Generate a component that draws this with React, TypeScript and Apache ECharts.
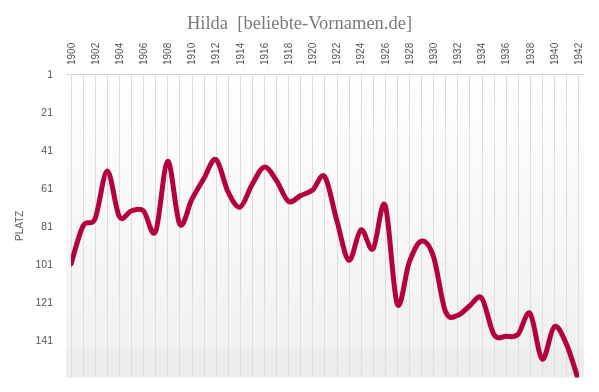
import React, { useEffect, useRef } from "react";
import * as echarts from "echarts";

const TITLE = "Hilda  [beliebte-Vornamen.de]";
const Y_NAME = "PLATZ";
const years = [
  1900, 1901, 1902, 1903, 1904, 1905, 1906, 1907, 1908, 1909, 1910, 1911, 1912,
  1913, 1914, 1915, 1916, 1917, 1918, 1919, 1920, 1921, 1922, 1923, 1924, 1925,
  1926, 1927, 1928, 1929, 1930, 1931, 1932, 1933, 1934, 1935, 1936, 1937, 1938,
  1939, 1940, 1941, 1942,
];
const ranks = [
  101, 81, 77, 52, 76, 73, 73, 84, 47, 80, 67, 56, 46, 63, 71, 59, 50, 57, 68,
  65, 62, 55, 78, 99, 83, 93, 70, 122, 100, 89, 97, 126, 128, 123, 119, 138,
  139, 138, 127, 151, 134, 143, 162,
];
const yTicks = [1, 21, 41, 61, 81, 101, 121, 141];

export default function App() {
  const ref = useRef<HTMLDivElement>(null);
  useEffect(() => {
    if (!ref.current) return;
    const chart = echarts.init(ref.current, undefined, { renderer: "svg" });
    const pts = years.map((y, i) => [y, ranks[i]]);
    chart.setOption({
      animation: false,
      title: {
        text: TITLE,
        left: "center",
        top: 8,
        textStyle: {
          fontFamily: "Liberation Serif",
          fontSize: 18.5,
          fontWeight: "normal",
          color: "#7a7a7a",
        },
      },
      graphic: [
        {
          type: "rect",
          z: -10,
          silent: true,
          shape: { x: 66, y: 74, width: 518, height: 303.5 },
          style: {
            fill: new echarts.graphic.LinearGradient(0, 0, 0, 1, [
              { offset: 0, color: "#ffffff" },
              { offset: 0.9, color: "#f2f1f2" },
              { offset: 0.905, color: "#eeedee" },
              { offset: 1, color: "#edeced" },
            ]),
          },
        },
        {
          type: "line",
          z: 5,
          silent: true,
          shape: { x1: 66, y1: 74.5, x2: 584, y2: 74.5 },
          style: { stroke: "#d4d4d4", lineWidth: 1 },
        },
      ],
      grid: { left: 71, right: 20.6, top: 74, bottom: 14.5, containLabel: false },
      xAxis: {
        type: "value",
        position: "top",
        min: 1900,
        max: 1942,
        interval: 1,
        axisLine: { show: false },
        axisTick: { show: false },
        splitLine: { show: true, lineStyle: { color: "#dcdcdc", width: 1 } },
        axisLabel: {
          rotate: -90,
          margin: 9,
          fontFamily: "Liberation Sans",
          fontSize: 10,
          color: "#555",
          formatter: (v: number) => (v % 2 === 0 ? String(v) : ""),
        },
      },
      yAxis: {
        type: "value",
        inverse: true,
        min: 1,
        max: 160.7,
        interval: 20,
        name: Y_NAME,
        nameLocation: "middle",
        nameRotate: 90,
        nameGap: 46,
        nameTextStyle: { fontFamily: "Liberation Sans", fontSize: 10, color: "#6a5f55" },
        axisLine: { show: false },
        axisTick: { show: false },
        splitLine: { show: false },
        axisLabel: {
          margin: 18,
          fontFamily: "Liberation Sans",
          fontSize: 10.5,
          color: "#555",
          showMaxLabel: false,
          formatter: (v: number) => (yTicks.includes(Math.round(v)) ? String(Math.round(v)) : ""),
        },
      },
      series: [
        {
          type: "custom",
          data: pts,
          clip: true,
          encode: { x: 0, y: 1 },
          renderItem: (params: any, api: any) => {
            if (params.dataIndex !== 0) return null;
            const p = pts.map((d) => api.coord(d));
            const n = p.length;
            let d = `M${p[0][0]},${p[0][1]}`;
            for (let i = 0; i < n - 1; i++) {
              const p0 = p[Math.max(0, i - 1)];
              const p1 = p[i];
              const p2 = p[i + 1];
              const p3 = p[Math.min(n - 1, i + 2)];
              const c1x = p1[0] + (p2[0] - p0[0]) / 6;
              const c1y = p1[1] + (p2[1] - p0[1]) / 6;
              const c2x = p2[0] - (p3[0] - p1[0]) / 6;
              const c2y = p2[1] - (p3[1] - p1[1]) / 6;
              d += ` C${c1x},${c1y} ${c2x},${c2y} ${p2[0]},${p2[1]}`;
            }
            return {
              type: "path",
              shape: { pathData: d },
              style: {
                fill: "none",
                stroke: "#b5003b",
                lineWidth: 5,
                lineJoin: "round",
                lineCap: "round",
              },
            };
          },
        },
      ],
    });
    return () => chart.dispose();
  }, []);
  return (
    <div
      ref={ref}
      style={{ position: "fixed", left: 0, top: 0, width: 599, height: 392 }}
    />
  );
}
